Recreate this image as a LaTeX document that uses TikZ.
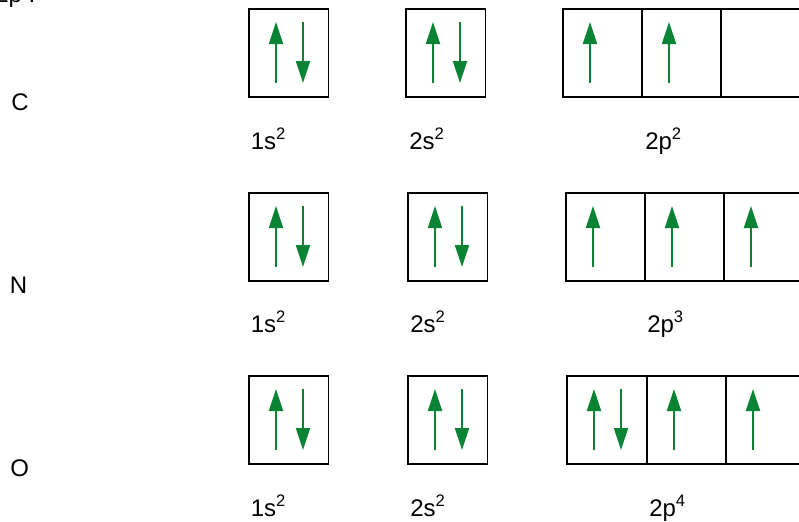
\documentclass[tikz,border=0pt]{standalone}
\usepackage{fontspec}
\setmainfont{Liberation Sans}
\usetikzlibrary{arrows.meta,calc}
\definecolor{spingreen}{RGB}{10,132,52}
\newcommand\sups[1]{\raisebox{7.5pt}{\fontsize{12.5}{13}\selectfont #1}}
\newcommand\upspin[1]{\draw[spin] ($(#1.north west)+(27,74)$) -- ++(0,-61);}
\newcommand\dnspin[1]{\draw[spin] ($(#1.north west)+(54,13)$) -- ++(0,61);}
\begin{document}
\begin{tikzpicture}[x=0.75pt,y=-0.75pt,
  orb/.style={draw=black,line width=1.1pt,minimum width=59.5pt,minimum height=66pt,
    inner sep=0pt,outer sep=0pt,anchor=north west},
  spin/.style={draw=spingreen,line width=1.7pt,-{Triangle[width=10.5pt,length=16.5pt]}},
  lbl/.style={anchor=base west,inner sep=0pt,font=\fontsize{18}{21}\selectfont}]
\useasboundingbox (0,0) rectangle (799,521);
\clip (0,0) rectangle (799,521);
% cut-off text at top
\node[lbl] (top) at (-5,2.5) {2p :};
% element letters
\node[lbl] (lc) at (11,110) {C};
\node[lbl] (ln) at (9.5,293) {N};
\node[lbl] (lo) at (10,476) {O};
% C row
\node[orb] (c1s) at (249,9) {};
\node[orb] (c2s) at (406,9) {};
\node[orb] (c2pa) at (563,9) {};
\node[orb] (c2pb) at (642,9) {};
\node[orb] (c2pc) at (721,9) {};
\upspin{c1s}\dnspin{c1s}
\upspin{c2s}\dnspin{c2s}
\upspin{c2pa}\upspin{c2pb}
\node[lbl] (tc1) at (250.5,149) {1s\sups{2}};
\node[lbl] (tc2) at (409,149) {2s\sups{2}};
\node[lbl] (tc3) at (645,149) {2p\sups{2}};
% N row
\node[orb] (n1s) at (249,193) {};
\node[orb] (n2s) at (408,193) {};
\node[orb] (n2pa) at (566,193) {};
\node[orb] (n2pb) at (645,193) {};
\node[orb] (n2pc) at (724,193) {};
\upspin{n1s}\dnspin{n1s}
\upspin{n2s}\dnspin{n2s}
\upspin{n2pa}\upspin{n2pb}\upspin{n2pc}
\node[lbl] (tn1) at (250.5,332) {1s\sups{2}};
\node[lbl] (tn2) at (410,332) {2s\sups{2}};
\node[lbl] (tn3) at (647,332) {2p\sups{3}};
% O row
\node[orb] (o1s) at (249,376) {};
\node[orb] (o2s) at (408,376) {};
\node[orb] (o2pa) at (567,376) {};
\node[orb] (o2pb) at (647,376) {};
\node[orb] (o2pc) at (726,376) {};
\upspin{o1s}\dnspin{o1s}
\upspin{o2s}\dnspin{o2s}
\upspin{o2pa}\dnspin{o2pa}\upspin{o2pb}\upspin{o2pc}
\node[lbl] (to1) at (250.5,516) {1s\sups{2}};
\node[lbl] (to2) at (410,516) {2s\sups{2}};
\node[lbl] (to3) at (649,516) {2p\sups{4}};
\end{tikzpicture}
\end{document}
